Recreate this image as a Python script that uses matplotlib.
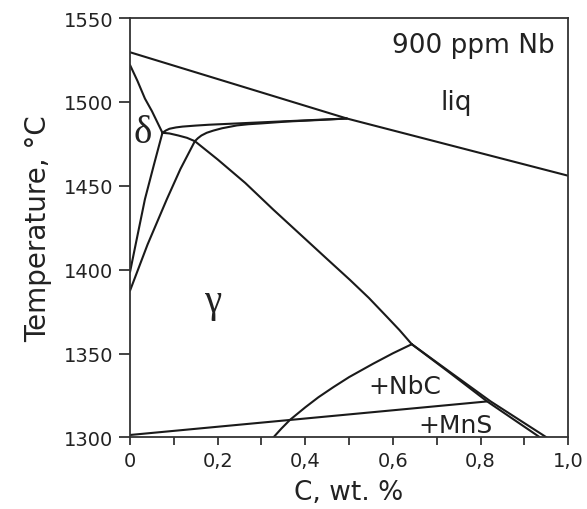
import matplotlib
matplotlib.use("Agg")
import matplotlib.pyplot as plt
import numpy as np

# liquidus
liq_x = [0.0, 0.495, 1.0]
liq_T = [1529.6, 1490.1, 1456.0]
# delta upper boundary
dtop_x = [0.0, 0.017, 0.034, 0.05, 0.074]
dtop_T = [1522.0, 1512.5, 1502.0, 1494.5, 1481.6]
# peritectic curves (upper and lower)
per_up_x = [0.074, 0.082, 0.09, 0.105, 0.12, 0.15, 0.18, 0.23, 0.28, 0.34, 0.40, 0.45, 0.495]
per_up_T = [1481.6, 1483.0, 1484.0, 1484.8, 1485.3, 1485.9, 1486.4, 1487.0, 1487.6, 1488.3, 1489.0, 1489.6, 1490.1]
per_lo_x = [0.148, 0.155, 0.163, 0.175, 0.19, 0.21, 0.244, 0.27, 0.30, 0.358, 0.43, 0.495]
per_lo_T = [1476.6, 1478.4, 1480.0, 1481.6, 1482.9, 1484.3, 1486.0, 1486.7, 1487.2, 1488.3, 1489.2, 1490.1]
# delta / delta+gamma boundary
dlo_x = [0.0, 0.012, 0.034, 0.055, 0.074]
dlo_T = [1398.6, 1414.0, 1442.0, 1463.0, 1481.6]
# gamma / gamma+delta boundary
gam_x = [0.0, 0.04, 0.084, 0.115, 0.148]
gam_T = [1387.5, 1415.0, 1442.0, 1460.0, 1476.6]
# gamma solidus
sol_x = [0.074, 0.09, 0.11, 0.13, 0.148, 0.2, 0.263, 0.327, 0.40, 0.45, 0.502, 0.545, 0.586, 0.615, 0.643]
sol_T = [1481.6, 1481.2, 1480.0, 1478.6, 1476.6, 1465.7, 1451.7, 1435.8, 1418.3, 1406.3, 1393.9, 1383.2, 1372.0, 1364.0, 1355.6]
# NbC solvus
nbc_x = [0.327, 0.345, 0.365, 0.40, 0.43, 0.464, 0.50, 0.555, 0.60, 0.643]
nbc_T = [1300.0, 1305.2, 1310.5, 1318.0, 1324.0, 1330.0, 1336.0, 1344.0, 1350.2, 1355.6]
# two lines from the NbC peak
a_x = [0.643, 0.73, 0.815, 0.936]
a_T = [1355.6, 1338.5, 1321.5, 1300.0]
b_x = [0.643, 0.733, 0.823, 0.951]
b_T = [1355.6, 1338.5, 1321.5, 1300.0]
# MnS line
mns_x = [0.0, 0.815]
mns_T = [1301.5, 1321.5]

xticks = [0, 0.2, 0.4, 0.6, 0.8, 1.0]
xticklabels = ["0", "0,2", "0,4", "0,6", "0,8", "1,0"]
yticks = [1300, 1350, 1400, 1450, 1500, 1550]

fig = plt.figure(figsize=(5.87, 5.10), dpi=100)
ax = fig.add_axes([0.2215, 0.1402, 0.7465, 0.8225])

lc = "#1a1a1a"
lw = 1.5
for xs, ts in [(liq_x, liq_T), (dtop_x, dtop_T), (per_up_x, per_up_T),
               (per_lo_x, per_lo_T), (dlo_x, dlo_T), (gam_x, gam_T),
               (sol_x, sol_T), (nbc_x, nbc_T), (a_x, a_T), (b_x, b_T),
               (mns_x, mns_T)]:
    ax.plot(xs, ts, color=lc, lw=lw, solid_capstyle="round", solid_joinstyle="round")

ax.set_xlim(0, 1.0)
ax.set_ylim(1300, 1550)
ax.set_xticks(xticks)
ax.set_xticklabels(xticklabels)
ax.set_xticks([0.1, 0.3, 0.5, 0.7, 0.9], minor=True)
ax.set_yticks(yticks)
ax.tick_params(axis="x", which="both", direction="out", length=6, width=1.2,
               labelsize=14, pad=4, colors="#222222")
ax.tick_params(axis="y", direction="out", length=8, width=1.2,
               labelsize=14, pad=4, colors="#222222")
for s in ax.spines.values():
    s.set_linewidth(1.3)
    s.set_color("#333333")

ax.set_xlabel("C, wt. %", fontsize=19, color="#222222", labelpad=6)
ax.set_ylabel("Temperature, \u00b0C", fontsize=20, color="#222222", labelpad=8)

ax.text(0.97, 1529.6, "900 ppm Nb", ha="right", va="baseline", fontsize=19, color="#222222")
ax.text(0.745, 1495.8, "liq", ha="center", va="baseline", fontsize=19, color="#222222")
ax.text(0.627, 1326.3, "+NbC", ha="center", va="baseline", fontsize=18, color="#222222")
ax.text(0.743, 1303.1, "+MnS", ha="center", va="baseline", fontsize=18, color="#222222")
ax.text(0.0285, 1481.5, "\u03b4", ha="center", va="center", fontsize=28,
        family="Liberation Serif", color="#222222")
ax.text(0.188, 1381, "\u03b3", ha="center", va="center", fontsize=28,
        family="Liberation Serif", color="#222222")

fig.savefig("out.png", dpi=100)
